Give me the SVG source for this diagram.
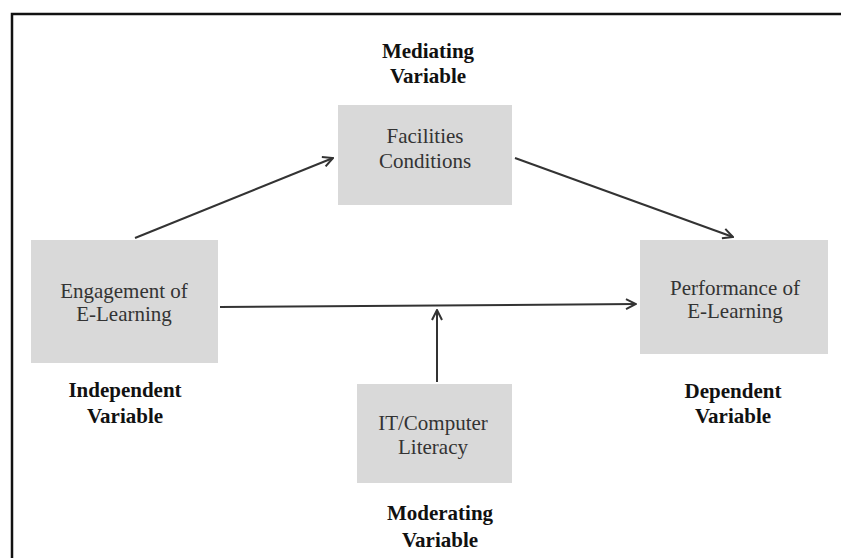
<svg xmlns="http://www.w3.org/2000/svg" width="841" height="558" viewBox="0 0 841 558">
<defs>
<marker id="arr" viewBox="0 0 12 12" refX="11" refY="6" markerWidth="12" markerHeight="12" markerUnits="userSpaceOnUse" orient="auto">
<path d="M1,1 L11,6 L1,11" fill="none" stroke="#333" stroke-width="2"/>
</marker>
<style>
.box{fill:#d9d9d9}
.t{font-family:"Liberation Serif","Times New Roman",serif;font-size:21px;fill:#333;text-anchor:middle}
.lb{font-family:"Liberation Serif","Times New Roman",serif;font-size:21px;font-weight:bold;fill:#111;text-anchor:middle}
.c{stroke:#333;stroke-width:2;fill:none;marker-end:url(#arr)}
</style>
</defs>
<rect x="0" y="0" width="841" height="558" fill="#fff"/>
<rect x="12" y="14" width="850" height="560" fill="none" stroke="#111" stroke-width="2.5"/>
<g id="connectors">
<line class="c" x1="135" y1="238" x2="333" y2="158"/>
<line class="c" x1="515" y1="158" x2="733" y2="237"/>
<line class="c" x1="220" y1="307" x2="636" y2="304"/>
<line class="c" x1="437" y1="382" x2="437" y2="310"/>
</g>
<g id="mediating">
<rect class="box" x="338" y="105" width="174" height="100"/>
<text class="t" x="425" y="143">Facilities</text>
<text class="t" x="425" y="168">Conditions</text>
<text class="lb" x="428" y="58">Mediating</text>
<text class="lb" x="428" y="83">Variable</text>
</g>
<g id="independent">
<rect class="box" x="31" y="240" width="187" height="123"/>
<text class="t" x="124" y="298">Engagement of</text>
<text class="t" x="124" y="321">E-Learning</text>
<text class="lb" x="125" y="397">Independent</text>
<text class="lb" x="125" y="423">Variable</text>
</g>
<g id="dependent">
<rect class="box" x="640" y="240" width="188" height="114"/>
<text class="t" x="735" y="295">Performance of</text>
<text class="t" x="735" y="318">E-Learning</text>
<text class="lb" x="733" y="398">Dependent</text>
<text class="lb" x="733" y="423">Variable</text>
</g>
<g id="moderating">
<rect class="box" x="357" y="384" width="155" height="99"/>
<text class="t" x="433" y="430">IT/Computer</text>
<text class="t" x="433" y="454">Literacy</text>
<text class="lb" x="440" y="520">Moderating</text>
<text class="lb" x="440" y="547">Variable</text>
</g>
</svg>
